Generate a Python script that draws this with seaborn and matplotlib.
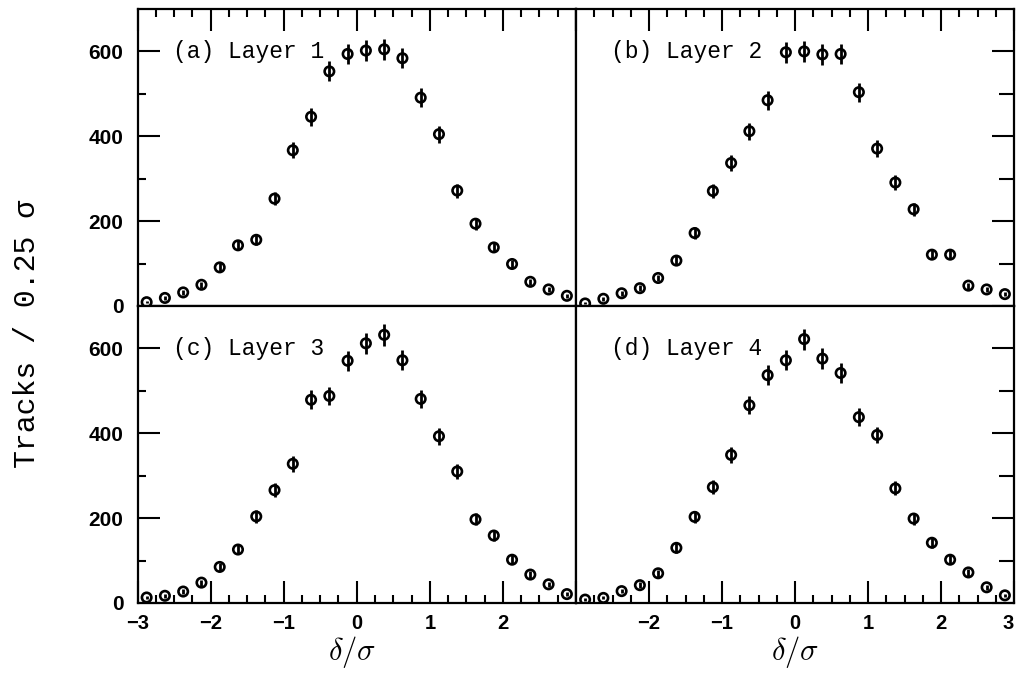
import numpy as np
import pandas as pd
import matplotlib
matplotlib.use("Agg")
import matplotlib.pyplot as plt
import matplotlib.transforms as mtransforms
from matplotlib.ticker import FixedLocator, FixedFormatter, MultipleLocator
import seaborn as sns

# ---- data ----
bin_centers = [-2.875, -2.625, -2.375, -2.125, -1.875, -1.625, -1.375, -1.125,
               -0.875, -0.625, -0.375, -0.125, 0.125, 0.375, 0.625, 0.875,
               1.125, 1.375, 1.625, 1.875, 2.125, 2.375, 2.625, 2.875]
layer1 = [9, 19, 32, 50, 91, 143, 156, 253, 367, 446, 553, 594,
          602, 605, 584, 491, 405, 272, 194, 138, 99, 57, 39, 24]
layer2 = [6, 17, 30, 42, 66, 107, 172, 271, 337, 412, 485, 598,
          600, 593, 594, 504, 371, 291, 228, 121, 121, 48, 39, 28]
layer3 = [13, 17, 27, 48, 85, 126, 204, 266, 328, 479, 488, 571,
          612, 632, 572, 481, 393, 310, 197, 159, 102, 67, 44, 21]
layer4 = [8, 12, 28, 42, 70, 130, 203, 273, 349, 466, 537, 572,
          622, 576, 542, 438, 396, 270, 199, 142, 102, 72, 37, 18]
panel_labels = ["(a) Layer 1", "(b) Layer 2", "(c) Layer 3", "(d) Layer 4"]
x_major = [-3, -2, -1, 0, 1, 2, 3]
x_labels_left = ["\u22123", "\u22122", "\u22121", "0", "1", "2", ""]
x_labels_right = ["", "\u22122", "\u22121", "0", "1", "2", "3"]
y_major = [0, 200, 400, 600]
y_minor = [100, 300, 500]
y_labels = ["0", "200", "400", "600"]
y_title = "Tracks / 0.25 \u03c3"
x_title = r"$\delta/\sigma$"

sns.set_theme(style="white")
plt.rcParams["font.family"] = ["Liberation Sans", "DejaVu Sans"]
plt.rcParams["mathtext.fontset"] = "cm"

W, H = 1018, 673
fig = plt.figure(figsize=(W / 100, H / 100), dpi=100)
x0, xm, x1 = 137.5, 576, 1014
y0, ym, y1 = 9, 306, 603
def rect(l, r, t, b):
    return [l / W, 1 - b / H, (r - l) / W, (b - t) / H]
axes = [fig.add_axes(rect(x0, xm, y0, ym)), fig.add_axes(rect(xm, x1, y0, ym)),
        fig.add_axes(rect(x0, xm, ym, y1)), fig.add_axes(rect(xm, x1, ym, y1))]
layers = [layer1, layer2, layer3, layer4]
mono = ["Liberation Mono", "DejaVu Sans Mono"]

for i, (ax, vals, lab) in enumerate(zip(axes, layers, panel_labels)):
    df = pd.DataFrame({"x": bin_centers, "n": vals})
    df["err"] = np.sqrt(df["n"])
    ax.errorbar(df["x"], df["n"], yerr=df["err"], fmt="none",
                ecolor="black", elinewidth=2.0, capsize=0, zorder=2)
    sns.scatterplot(data=df, x="x", y="n", ax=ax, marker="o", s=46,
                    facecolor="none", edgecolor="black", linewidth=1.9,
                    zorder=3, legend=False)
    ax.set_xlim(-3, 3)
    ax.set_ylim(0, 700)
    ax.set_xlabel("")
    ax.set_ylabel("")
    for sp in ax.spines.values():
        sp.set_linewidth(1.6)
        sp.set_color("black")
    ax.xaxis.set_major_locator(FixedLocator(x_major))
    ax.xaxis.set_minor_locator(MultipleLocator(0.25))
    ax.yaxis.set_major_locator(FixedLocator(y_major))
    ax.yaxis.set_minor_locator(FixedLocator(y_minor))
    top = i < 2
    left = i % 2 == 0
    ax.tick_params(axis="x", which="both", direction="in", top=top, bottom=not top,
                   labeltop=False, labelbottom=not top, width=1.5, colors="black",
                   labelsize=14.5, pad=8)
    ax.tick_params(axis="x", which="major", length=16)
    ax.tick_params(axis="x", which="minor", length=6)
    if not top:
        ax.xaxis.set_major_formatter(FixedFormatter(x_labels_left if left else x_labels_right))
    ax.tick_params(axis="y", which="both", direction="in", left=left, right=not left,
                   labelleft=left, labelright=False, width=1.5, colors="black",
                   labelsize=15, pad=10)
    ax.tick_params(axis="y", which="major", length=16)
    ax.tick_params(axis="y", which="minor", length=6 if left else 11)
    if left:
        ax.yaxis.set_major_formatter(FixedFormatter(y_labels))
    for t in ax.get_xticklabels() + ax.get_yticklabels():
        t.set_fontweight("bold")
    if not top and not left:
        ax.get_xticklabels()[-1].set_horizontalalignment("right")
    trans = mtransforms.blended_transform_factory(ax.transAxes, ax.transData)
    ax.text(0.080, 600, lab, transform=trans, va="center", ha="left",
            fontsize=16.5, family=mono, color="black")

fig.text(27 / W, 1 - 334 / H, y_title, rotation=90, ha="center", va="center",
         fontsize=21.5, family=mono, color="black")
fig.text(352 / W, 1 - 652 / H, x_title, ha="center", va="center", fontsize=22, color="black")
fig.text(795 / W, 1 - 652 / H, x_title, ha="center", va="center", fontsize=22, color="black")

fig.savefig("out.png", dpi=100, facecolor="white")
